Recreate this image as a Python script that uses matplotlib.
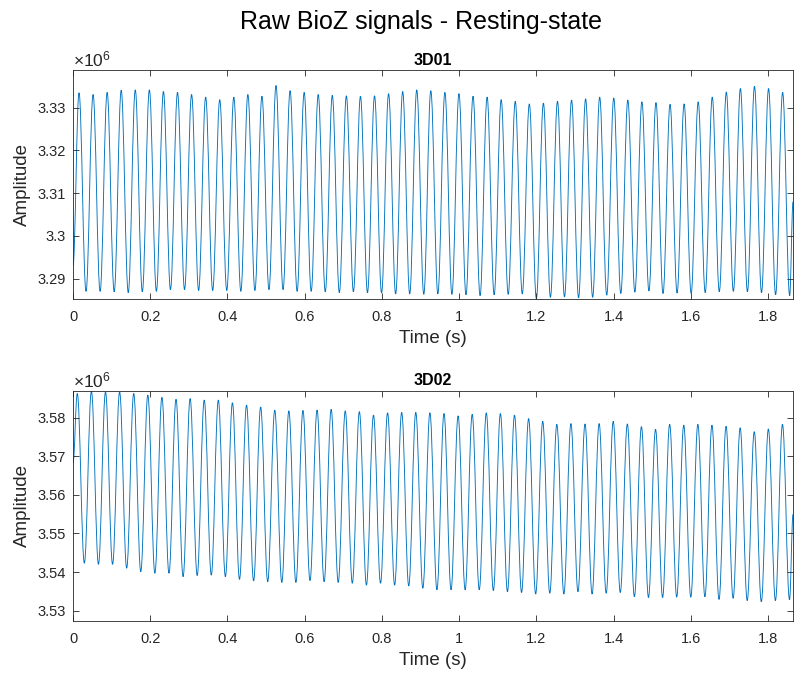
import numpy as np
import matplotlib.pyplot as plt
from matplotlib.path import Path
from matplotlib.patches import PathPatch
from matplotlib.ticker import FuncFormatter, MultipleLocator

plt.rcParams['font.family'] = ['Liberation Sans', 'DejaVu Sans']
plt.rcParams['mathtext.fontset'] = 'custom'
plt.rcParams['mathtext.rm'] = 'Liberation Sans'

# Cycle extremes of each channel, amplitude in units of 1e6
d01_peaks = [3.3335, 3.3331, 3.3336, 3.3341, 3.3342, 3.3342, 3.3338, 3.3336,
             3.3331, 3.3325, 3.3319, 3.3325, 3.3331, 3.3327, 3.3352, 3.3340,
             3.3336, 3.3331, 3.3329, 3.3328, 3.3327, 3.3328, 3.3333, 3.3338,
             3.3342, 3.3340, 3.3336, 3.3333, 3.3327, 3.3325, 3.3319, 3.3315,
             3.3309, 3.3311, 3.3315, 3.3318, 3.3321, 3.3325, 3.3323, 3.3318,
             3.3314, 3.3312, 3.3308, 3.3309, 3.3314, 3.3325, 3.3337, 3.3345,
             3.3350, 3.3345, 3.3336]
d01_troughs = [3.2870, 3.2870, 3.2869, 3.2867, 3.2869, 3.2870, 3.2874, 3.2874,
               3.2872, 3.2872, 3.2872, 3.2870, 3.2872, 3.2874, 3.2874, 3.2870,
               3.2870, 3.2869, 3.2867, 3.2869, 3.2867, 3.2866, 3.2864, 3.2864,
               3.2863, 3.2864, 3.2863, 3.2862, 3.2860, 3.2862, 3.2863, 3.2864,
               3.2853, 3.2856, 3.2857, 3.2855, 3.2856, 3.2861, 3.2865, 3.2868,
               3.2871, 3.2865, 3.2866, 3.2865, 3.2867, 3.2869, 3.2870, 3.2869,
               3.2867, 3.2862, 3.2860]
d01_start, d01_end = 3.2930, 3.3080
d01_first_peak, d01_period = 0.0155, 0.03645

d02_peaks = [3.5863, 3.5869, 3.5867, 3.5867, 3.5863, 3.5859, 3.5853, 3.5848,
             3.5850, 3.5846, 3.5846, 3.5839, 3.5833, 3.5828, 3.5820, 3.5818,
             3.5819, 3.5820, 3.5822, 3.5818, 3.5816, 3.5807, 3.5813, 3.5814,
             3.5814, 3.5813, 3.5811, 3.5805, 3.5809, 3.5813, 3.5811, 3.5807,
             3.5798, 3.5791, 3.5783, 3.5785, 3.5784, 3.5785, 3.5791, 3.5784,
             3.5777, 3.5770, 3.5783, 3.5781, 3.5783, 3.5781, 3.5778, 3.5774,
             3.5764, 3.5771, 3.5783]
d02_troughs = [3.5423, 3.5420, 3.5420, 3.5410, 3.5401, 3.5397, 3.5397, 3.5388,
               3.5391, 3.5392, 3.5388, 3.5381, 3.5377, 3.5375, 3.5373, 3.5373,
               3.5378, 3.5375, 3.5373, 3.5371, 3.5366, 3.5371, 3.5366, 3.5364,
               3.5358, 3.5354, 3.5354, 3.5354, 3.5354, 3.5352, 3.5349, 3.5347,
               3.5343, 3.5345, 3.5343, 3.5349, 3.5343, 3.5345, 3.5347, 3.5336,
               3.5334, 3.5334, 3.5335, 3.5335, 3.5336, 3.5329, 3.5332, 3.5326,
               3.5323, 3.5326, 3.5328]
d02_start, d02_end = 3.5682, 3.5550
d02_first_peak, d02_period = 0.0111, 0.03653

t_end = 1.865
x_ticks = [0, 0.2, 0.4, 0.6, 0.8, 1.0, 1.2, 1.4, 1.6, 1.8]
d01_ylim = (3.2852, 3.3388)
d02_ylim = (3.5273, 3.5870)


def extremes(start, peaks, troughs, end, first_peak, period):
    n = len(peaks)
    tp = first_peak + period * np.arange(n)
    t = [0.0]
    v = [start]
    for k in range(n):
        t += [tp[k], tp[k] + period / 2]
        v += [peaks[k], troughs[k]]
    t.append(t_end)
    v.append(end)
    return np.array(t), np.array(v) * 1e6


def smooth_path(t, v, h=0.38):
    # cubic segments between successive extremes, flat at each turning point
    verts = [(t[0], v[0])]
    codes = [Path.MOVETO]
    for i in range(1, len(t)):
        dt = t[i] - t[i - 1]
        verts += [(t[i - 1] + h * dt, v[i - 1]), (t[i] - h * dt, v[i]),
                  (t[i], v[i])]
        codes += [Path.CURVE4] * 3
    return Path(verts, codes)


fig = plt.figure(figsize=(7.98, 6.75), dpi=100)
fig.text(0.527, 0.967, 'Raw BioZ signals - Resting-state', ha='center',
         va='center', fontsize=18, color='black')

axes_pos = [[0.0915, 0.557, 0.9023, 0.339],
            [0.0915, 0.080, 0.9023, 0.341]]
channels = [('3D01', d01_start, d01_peaks, d01_troughs, d01_end,
             d01_first_peak, d01_period, d01_ylim),
            ('3D02', d02_start, d02_peaks, d02_troughs, d02_end,
             d02_first_peak, d02_period, d02_ylim)]

for pos, (name, st, pk, tr, en, fp, per, yl) in zip(axes_pos, channels):
    ax = fig.add_axes(pos)
    t, v = extremes(st, pk, tr, en, fp, per)
    ax.add_patch(PathPatch(smooth_path(t, v), facecolor='none',
                           edgecolor='#0072BD', lw=0.65))
    ax.set_xlim(0, t_end)
    ax.set_ylim(yl[0] * 1e6, yl[1] * 1e6)
    ax.set_xticks(x_ticks)
    ax.yaxis.set_major_locator(MultipleLocator(10000))
    ax.xaxis.set_major_formatter(FuncFormatter(lambda x, p: '%g' % round(x, 2)))
    ax.yaxis.set_major_formatter(
        FuncFormatter(lambda y, p: '%g' % round(y / 1e6, 3)))
    ax.tick_params(direction='in', top=True, right=True, length=4,
                   width=0.6, labelsize=10.5, colors='#262626')
    ax.tick_params(axis='x', pad=8)
    ax.tick_params(axis='y', pad=5)
    for s in ax.spines.values():
        s.set_color('#262626')
        s.set_linewidth(0.6)
    ax.set_xlabel('Time (s)', fontsize=13.5, color='#262626', labelpad=4)
    ax.set_ylabel('Amplitude', fontsize=13.5, color='#262626', labelpad=5)
    ax.set_title(name, fontsize=11.5, fontweight='bold', pad=4)
    ax.text(0.0, 1.003, r'$\times\mathregular{10^{6}}$', transform=ax.transAxes,
            ha='left', va='bottom', fontsize=12.5, color='#262626')

fig.savefig('out.png', dpi=100, facecolor='white')
